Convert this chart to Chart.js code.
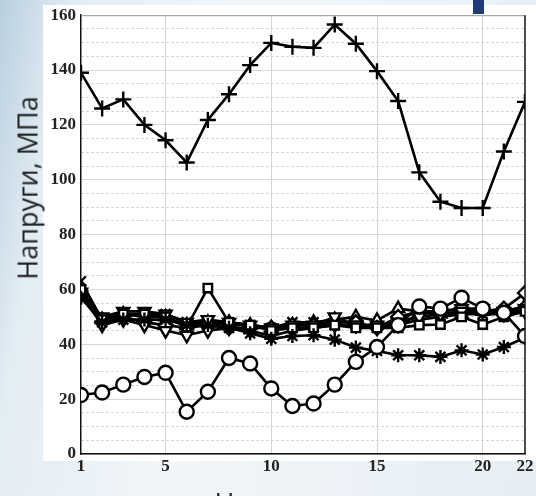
<!DOCTYPE html>
<html>
<head>
<meta charset="utf-8">
<script src="https://cdn.jsdelivr.net/npm/chart.js@4/dist/chart.umd.min.js"></script>
<style>
  html, body { margin: 0; padding: 0; }
  body {
    width: 536px; height: 496px; overflow: hidden; position: relative;
    background: linear-gradient(100deg, #b9cfdf 0%, #e3edf4 12%, #f2f6f9 40%, #e6eef4 100%);
  }
  #paper { position: absolute; left: 43px; top: 5px; width: 493px; height: 456px; background: #fff; }
  #blue { position: absolute; left: 473px; top: 0; width: 11px; height: 14px; background: #1f3a78; }
  #wrap { position: absolute; left: 0; top: 0; width: 536px; height: 496px; }
  .ttl { position: absolute; font-family: "Open Sans", sans-serif; color: #222; white-space: nowrap; }
  #ytitle { left: 27px; top: 188px; font-size: 27px; transform: translate(-50%, -50%) rotate(-90deg); }
  #xtitle { left: 300px; top: 484px; font-size: 27px; transform: translateX(-50%); }
</style>
</head>
<body>
<div id="paper"></div>
<div id="blue"></div>
<div id="wrap"><canvas id="stressChart" width="536" height="496"></canvas></div>
<div class="ttl" id="ytitle">Напруги, МПа</div>
<div class="ttl" id="xtitle">Номер точки</div>
<script>
const nodes = [1,2,3,4,5,6,7,8,9,10,11,12,13,14,15,16,17,18,19,20,21,22];
const xTicks = [1, 5, 10, 15, 20, 22];

// series values, MPa
const crossVals    = [139,126,129.3,120,114.4,106.3,121.8,131.2,141.8,149.9,148.5,148.1,156.6,149.6,139.6,128.7,102.7,92,89.7,89.7,110.3,128.4];
const circleVals   = [21.5,22.4,25.3,28.1,29.6,15.4,22.7,35,33,23.9,17.5,18.4,25.3,33.6,39,47,53.8,53,57,53,51.5,43];
const starVals     = [57,48,49,49,49,47,47,46,44,42,43,43.3,41.7,38.8,37.6,36,36,35.4,37.8,36.3,39,42.4];
const squareVals   = [60,49,51,51,50,46.3,60.5,48,47,45,46,46,47,46,46,46,47,47.2,50,47.2,50,52];
const triDownVals  = [59,50,52,52,51,48,49,48,47,46,47,47,50,47,47,48,50,51,52,52,52,53];
const triDown2Vals = [58,47,49,47,45,43.3,45,46,45,43,45,46,47,47,46,47,51,52,53,53,51,52];
const diamondVals  = [58,48,50,48,47,46,47,46,46,46,47,47,48,48,46,50,52,52,53,52,53,58.7];
const triUpVals    = [60,49,51,50,50,47,48,48,47,46,47,48,49,50,48.7,53,52,51,51,52,52,54];
const xMarkVals    = [63,49,51,51,51,48,48,47,47,46,48,48,47,47,47,47,49,50,51,51,51,53];

function pts(vals) {
  return nodes.map((n, i) => ({x: n, y: vals[i]}));
}

function series(vals, style, radius, rotation) {
  return {
    data: pts(vals),
    borderColor: '#000',
    borderWidth: 2.6,
    pointStyle: style,
    pointRadius: radius,
    pointRotation: rotation || 0,
    pointBorderColor: '#000',
    pointBackgroundColor: '#fff',
    pointBorderWidth: 2.4,
    tension: 0,
    fill: false
  };
}

const boxPlugin = {
  id: 'box',
  afterDraw(chart) {
    const {ctx, chartArea: a} = chart;
    ctx.save();
    ctx.strokeStyle = '#999';
    ctx.lineWidth = 1;
    ctx.beginPath();
    ctx.moveTo(a.left, a.top + 0.5);
    ctx.lineTo(a.right, a.top + 0.5);
    ctx.stroke();
    ctx.strokeStyle = '#111';
    ctx.lineWidth = 1.5;
    ctx.beginPath();
    ctx.moveTo(a.right, a.top);
    ctx.lineTo(a.right, a.bottom);
    ctx.stroke();
    ctx.restore();
  }
};

const tickFont = {family: '"Liberation Serif", serif', size: 17, weight: 'bold'};

new Chart(document.getElementById('stressChart'), {
  type: 'line',
  data: {
    datasets: [
      series(crossVals, 'cross', 8),
      series(circleVals, 'circle', 7),
      series(starVals, 'star', 7),
      series(squareVals, 'rect', 6),
      series(triDownVals, 'triangle', 7, 180),
      series(triDown2Vals, 'triangle', 7, 180),
      series(diamondVals, 'rectRot', 7),
      series(triUpVals, 'triangle', 7),
      series(xMarkVals, 'crossRot', 7)
    ]
  },
  options: {
    responsive: false,
    animation: false,
    layout: {padding: {left: 0, right: 11, top: 14, bottom: 0}},
    plugins: {legend: {display: false}, tooltip: {enabled: false}},
    scales: {
      x: {
        type: 'linear',
        min: 1,
        max: 22,
        afterBuildTicks: s => { s.ticks = xTicks.map(v => ({value: v})); },
        afterFit: s => { s.height = 42; },
        ticks: {font: tickFont, color: '#222', padding: 2, autoSkip: false, maxRotation: 0},
        grid: {
          color: ctx => (ctx.tick && (ctx.tick.value === 1 || ctx.tick.value === 22)) ? 'rgba(0,0,0,0)' : '#d4d4d4',
          lineWidth: 1,
          drawTicks: false
        },
        border: {color: '#111', width: 1.5}
      },
      y: {
        min: 0,
        max: 160,
        afterBuildTicks: s => {
          const t = [];
          for (let v = 0; v <= 160; v += 5) t.push({value: v});
          s.ticks = t;
        },
        afterFit: s => { s.width = 81; },
        ticks: {
          font: tickFont, color: '#222', padding: 5, autoSkip: false,
          callback: v => (v % 20 === 0 ? v : '')
        },
        grid: {
          color: ctx => (ctx.tick && ctx.tick.value % 20 === 0) ? '#d8d8d8' : '#c4c4c4',
          lineWidth: 1,
          drawTicks: false
        },
        border: {
          color: '#111', width: 1.5,
          dash: ctx => (ctx.tick && ctx.tick.value % 20 !== 0) ? [2, 3] : []
        }
      }
    }
  },
  plugins: [boxPlugin]
});
</script>
</body>
</html>
